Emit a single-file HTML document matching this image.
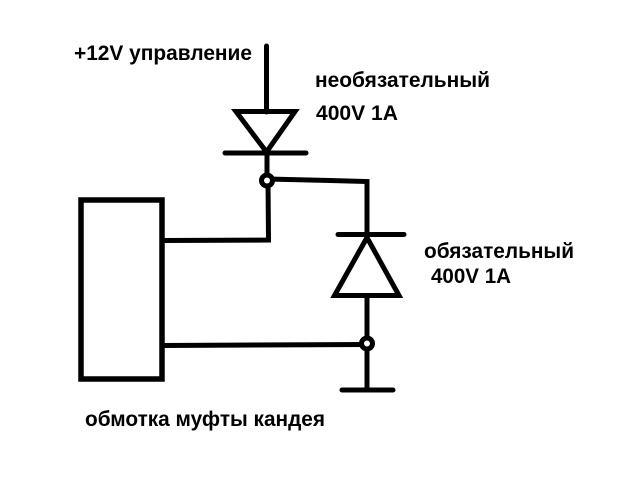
<!DOCTYPE html>
<html>
<head>
<meta charset="utf-8">
<style>
html,body{margin:0;padding:0;background:#fff;}
body{width:640px;height:483px;overflow:hidden;}
svg{display:block;}
text{font-family:"Liberation Sans","DejaVu Sans",sans-serif;font-weight:bold;font-size:21px;fill:#000;}
</style>
</head>
<body>
<svg width="640" height="483" viewBox="0 0 640 483" xmlns="http://www.w3.org/2000/svg">
  <rect x="0" y="0" width="640" height="483" fill="#fff"/>
  <g stroke="#000" stroke-width="5" fill="none" stroke-linecap="round" stroke-linejoin="miter">
    <!-- top input wire -->
    <line x1="266.5" y1="46" x2="266.5" y2="112"/>
    <!-- top diode triangle (pointing down) -->
    <polygon points="236,111.5 295,111.5 266.5,152"/>
    <!-- top diode bar -->
    <line x1="225" y1="153" x2="306" y2="153"/>
    <!-- wire from bar to node -->
    <line x1="267" y1="153" x2="267" y2="180"/>
    <!-- wire from node to right -->
    <polyline points="267,179 330,180.5 367,181.5 367,234"/>
    <!-- wire from node down to coil top -->
    <polyline points="268,181 268.5,240 163,240.5"/>
    <!-- bottom diode bar -->
    <line x1="338" y1="234.5" x2="404" y2="234.5"/>
    <!-- bottom diode triangle (pointing up) -->
    <polygon points="367,237.5 334.5,295.5 399,295.5"/>
    <!-- wire down to ground -->
    <line x1="367" y1="295.5" x2="367" y2="390"/>
    <!-- bottom wire from coil -->
    <line x1="163" y1="345.5" x2="367" y2="344.5"/>
    <!-- ground bar -->
    <line x1="342" y1="390" x2="393" y2="390"/>
  </g>
  <!-- coil box -->
  <rect x="81" y="200" width="81" height="179" fill="none" stroke="#000" stroke-width="5.5"/>
  <!-- junction rings -->
  <circle cx="267" cy="180.5" r="5.5" fill="#fff" stroke="#000" stroke-width="5"/>
  <circle cx="367" cy="343.5" r="5.5" fill="#fff" stroke="#000" stroke-width="5"/>

  <!-- labels -->
  <text x="74" y="60" textLength="178" lengthAdjust="spacingAndGlyphs">+12V управление</text>
  <text x="315" y="87" textLength="175" lengthAdjust="spacingAndGlyphs">необязательный</text>
  <text x="316" y="120" textLength="82" lengthAdjust="spacingAndGlyphs">400V 1A</text>
  <text x="424" y="258" textLength="150" lengthAdjust="spacingAndGlyphs">обязательный</text>
  <text x="431" y="283" textLength="80" lengthAdjust="spacingAndGlyphs">400V 1A</text>
  <text x="85" y="426" textLength="240" lengthAdjust="spacingAndGlyphs">обмотка муфты кандея</text>
</svg>
</body>
</html>
